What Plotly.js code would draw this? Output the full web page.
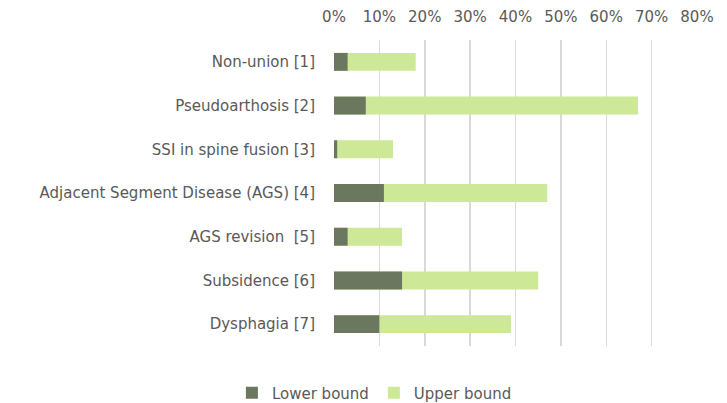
<!DOCTYPE html>
<html>
<head>
<meta charset="utf-8">
<script src="https://cdn.plot.ly/plotly-3.0.1.min.js"></script>
<style>html,body{margin:0;padding:0;background:#fff;}#chart{width:727px;height:403px;}</style>
</head>
<body>
<div id="chart"></div>
<script>
const categories = [
  "Non-union [1]",
  "Pseudoarthosis [2]",
  "SSI in spine fusion [3]",
  "Adjacent Segment Disease (AGS) [4]",
  "AGS revision  [5]",
  "Subsidence [6]",
  "Dysphagia [7]"
];
const lowerBound = [0.03, 0.07, 0.007, 0.11, 0.03, 0.15, 0.10];
const upperBound = [0.18, 0.67, 0.13, 0.47, 0.15, 0.45, 0.39];
const tickValues = [0, 0.1, 0.2, 0.3, 0.4, 0.5, 0.6, 0.7, 0.8];

const fontFam = "DejaVu Sans, sans-serif";
const textColor = "#595959";

const traces = [
  {
    type: "bar", orientation: "h", name: "Upper bound",
    y: categories, x: upperBound,
    marker: {color: "#CDE897"}, hoverinfo: "x+name"
  },
  {
    type: "bar", orientation: "h", name: "Lower bound",
    y: categories, x: lowerBound,
    marker: {color: "#6B775F"}, hoverinfo: "x+name"
  }
];

const layout = {
  width: 727, height: 403,
  margin: {l: 334, r: 30, t: 40, b: 57},
  paper_bgcolor: "#fff", plot_bgcolor: "#fff",
  barmode: "overlay",
  bargap: 0.59,
  font: {family: fontFam, size: 15, color: textColor},
  xaxis: {
    side: "top",
    range: [0, 0.8],
    tickvals: tickValues,
    tickformat: ".0%",
    showgrid: true, gridcolor: "#D9D9D9", gridwidth: 1.5,
    zeroline: false, showline: false,
    ticks: "", ticklabelstandoff: 14,
    tickfont: {family: fontFam, size: 15, color: textColor},
    fixedrange: true
  },
  yaxis: {
    autorange: "reversed",
    showgrid: false, zeroline: false, showline: false,
    ticks: "", ticklabelstandoff: 18,
    tickfont: {family: fontFam, size: 15, color: textColor},
    fixedrange: true
  },
  showlegend: true,
  legend: {
    orientation: "h", traceorder: "reversed",
    xref: "container", yref: "container",
    x: 0.515, xanchor: "center", y: 10 / 403, yanchor: "middle",
    font: {family: fontFam, size: 15, color: textColor},
    itemwidth: 30
  }
};

Plotly.newPlot("chart", traces, layout, {displayModeBar: false, staticPlot: true});
</script>
</body>
</html>
